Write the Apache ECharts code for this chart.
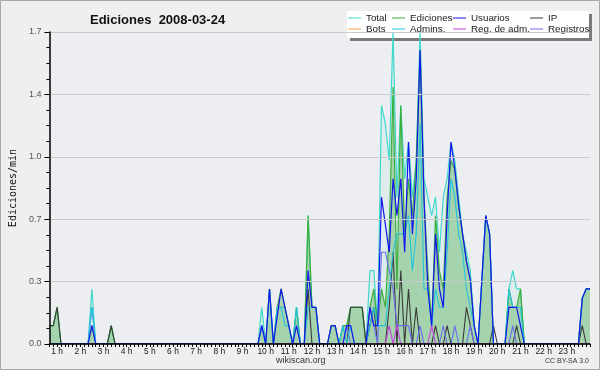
<!DOCTYPE html>
<html>
<head>
<meta charset="utf-8">
<script src="https://cdn.jsdelivr.net/npm/echarts@6/dist/echarts.min.js"></script>
<style>
  html, body { margin: 0; padding: 0; background: #efefef; }
  #chart { width: 600px; height: 370px; }
</style>
</head>
<body>
<div id="chart"></div>
<script>
  // 10 min bins from 0:40 to 24:00, values in edits/min
  const total = [
    0.1, 0.1,
    0.2, 0, 0, 0, 0, 0,
    0, 0, 0, 0.3, 0, 0,
    0, 0, 0.1, 0, 0, 0,
    0, 0, 0, 0, 0, 0,
    0, 0, 0, 0, 0, 0,
    0, 0, 0, 0, 0, 0,
    0, 0, 0, 0, 0, 0,
    0, 0, 0, 0, 0, 0,
    0, 0, 0, 0, 0, 0.2,
    0, 0.3, 0, 0.2, 0.2, 0.2,
    0.1, 0, 0.2, 0, 0, 0.7,
    0.2, 0.2, 0, 0, 0, 0.1,
    0.1, 0, 0.1, 0.1, 0.2, 0.2,
    0.2, 0.2, 0, 0.4, 0.4, 0.1,
    1.3, 1.2, 1.0, 1.7, 0.8, 1.3,
    0.9, 1.1, 0.8, 1.0, 1.7, 0.9,
    0.8, 0.7, 0.8, 0.5, 0.8, 0.9,
    1.1, 1.0, 0.8, 0.6, 0.5, 0.4,
    0.1, 0, 0.35, 0.7, 0.6, 0,
    0, 0, 0, 0.3, 0.4, 0.3,
    0.3, 0, 0, 0, 0, 0,
    0, 0, 0, 0, 0, 0,
    0, 0, 0, 0, 0.25, 0.3,
    0.3
  ];
  const ediciones = [
    0.1, 0.1,
    0.2, 0, 0, 0, 0, 0,
    0, 0, 0, 0.1, 0, 0,
    0, 0, 0.1, 0, 0, 0,
    0, 0, 0, 0, 0, 0,
    0, 0, 0, 0, 0, 0,
    0, 0, 0, 0, 0, 0,
    0, 0, 0, 0, 0, 0,
    0, 0, 0, 0, 0, 0,
    0, 0, 0, 0, 0, 0.1,
    0, 0.3, 0, 0.2, 0.3, 0.2,
    0.1, 0, 0.2, 0, 0, 0.7,
    0.2, 0.2, 0, 0, 0, 0.1,
    0.1, 0, 0.1, 0.1, 0.2, 0.2,
    0.2, 0.2, 0, 0.2, 0.3, 0.1,
    0.3, 0.2, 0.6, 1.4, 0.3, 1.3,
    0.6, 0.9, 0.7, 1.0, 1.6, 0.8,
    0.4, 0.1, 0.7, 0.4, 0.3, 0.8,
    1.0, 0.95, 0.75, 0.6, 0.45, 0.35,
    0.1, 0, 0.35, 0.7, 0.6, 0,
    0, 0, 0, 0.3, 0.2, 0.2,
    0.3, 0, 0, 0, 0, 0,
    0, 0, 0, 0, 0, 0,
    0, 0, 0, 0, 0.25, 0.3,
    0.3
  ];
  const usuarios = [
    0, 0,
    0, 0, 0, 0, 0, 0,
    0, 0, 0, 0.1, 0, 0,
    0, 0, 0, 0, 0, 0,
    0, 0, 0, 0, 0, 0,
    0, 0, 0, 0, 0, 0,
    0, 0, 0, 0, 0, 0,
    0, 0, 0, 0, 0, 0,
    0, 0, 0, 0, 0, 0,
    0, 0, 0, 0, 0, 0.1,
    0, 0.3, 0, 0.15, 0.3, 0.2,
    0.1, 0, 0.1, 0, 0, 0.4,
    0.2, 0.2, 0, 0, 0, 0.1,
    0.1, 0, 0, 0.1, 0.1, 0,
    0, 0, 0, 0.2, 0.1, 0.1,
    0.8, 0.65, 0.5, 0.9, 0.7, 0.9,
    0.5, 1.1, 0.6, 0.9, 1.6, 0.8,
    0.3, 0.1, 0.6, 0.3, 0.2, 0.7,
    1.1, 0.95, 0.75, 0.6, 0.45, 0.35,
    0.1, 0, 0.35, 0.7, 0.6, 0,
    0, 0, 0, 0.2, 0.2, 0.2,
    0.1, 0, 0, 0, 0, 0,
    0, 0, 0, 0, 0, 0,
    0, 0, 0, 0, 0.25, 0.3,
    0.3
  ];
  const ip = [
    0.1, 0.1,
    0.2, 0, 0, 0, 0, 0,
    0, 0, 0, 0, 0, 0,
    0, 0, 0.1, 0, 0, 0,
    0, 0, 0, 0, 0, 0,
    0, 0, 0, 0, 0, 0,
    0, 0, 0, 0, 0, 0,
    0, 0, 0, 0, 0, 0,
    0, 0, 0, 0, 0, 0,
    0, 0, 0, 0, 0, 0,
    0, 0, 0, 0, 0, 0,
    0, 0, 0, 0, 0, 0.3,
    0, 0, 0, 0, 0, 0,
    0, 0, 0, 0, 0.2, 0.2,
    0.2, 0.2, 0, 0.1, 0.2, 0,
    0, 0, 0.2, 0.5, 0, 0.4,
    0, 0.3, 0, 0.2, 0, 0,
    0, 0, 0.1, 0, 0, 0.1,
    0, 0, 0, 0, 0.2, 0.1,
    0, 0, 0, 0, 0, 0.1,
    0, 0, 0, 0, 0, 0.1,
    0, 0, 0, 0, 0, 0,
    0, 0, 0, 0, 0, 0,
    0, 0, 0, 0, 0.1, 0,
    0
  ];
  const bots = new Array(total.length).fill(0);
  const admins = [
    0, 0,
    0, 0, 0, 0, 0, 0,
    0, 0, 0, 0.2, 0, 0,
    0, 0, 0, 0, 0, 0,
    0, 0, 0, 0, 0, 0,
    0, 0, 0, 0, 0, 0,
    0, 0, 0, 0, 0, 0,
    0, 0, 0, 0, 0, 0,
    0, 0, 0, 0, 0, 0,
    0, 0, 0, 0, 0, 0.1,
    0, 0.3, 0, 0.2, 0.2, 0.1,
    0.1, 0, 0.2, 0, 0, 0.2,
    0.2, 0.2, 0, 0, 0, 0,
    0, 0, 0.1, 0, 0.1, 0,
    0, 0, 0, 0.1, 0.2, 0.1,
    0.1, 0.1, 0.3, 0.5, 0.6, 0.6,
    0.6, 0.7, 0.4, 0.6, 1.2, 0.3,
    0.3, 0.1, 0.3, 0.2, 0.2, 0.5,
    0.9, 0.8, 0.6, 0.5, 0.3, 0.2,
    0.1, 0, 0.35, 0.7, 0.6, 0,
    0, 0, 0, 0.3, 0.2, 0.2,
    0.2, 0, 0, 0, 0, 0,
    0, 0, 0, 0, 0, 0,
    0, 0, 0, 0, 0.25, 0.3,
    0.3
  ];
  const regAdm = [
    0, 0,
    0, 0, 0, 0, 0, 0,
    0, 0, 0, 0, 0, 0,
    0, 0, 0, 0, 0, 0,
    0, 0, 0, 0, 0, 0,
    0, 0, 0, 0, 0, 0,
    0, 0, 0, 0, 0, 0,
    0, 0, 0, 0, 0, 0,
    0, 0, 0, 0, 0, 0,
    0, 0, 0, 0, 0, 0,
    0, 0, 0, 0, 0, 0,
    0, 0, 0, 0, 0, 0,
    0, 0, 0, 0, 0, 0,
    0, 0, 0, 0, 0, 0,
    0, 0, 0, 0, 0, 0,
    0, 0, 0.1, 0, 0.1, 0,
    0, 0, 0, 0, 0, 0,
    0, 0.1, 0, 0, 0, 0,
    0, 0, 0, 0, 0, 0,
    0, 0, 0, 0, 0, 0,
    0, 0, 0, 0, 0, 0,
    0, 0, 0, 0, 0, 0,
    0, 0, 0, 0, 0, 0,
    0, 0, 0, 0, 0, 0,
    0
  ];
  const registros = [
    0, 0,
    0, 0, 0, 0, 0, 0,
    0, 0, 0, 0.2, 0, 0,
    0, 0, 0, 0, 0, 0,
    0, 0, 0, 0, 0, 0,
    0, 0, 0, 0, 0, 0,
    0, 0, 0, 0, 0, 0,
    0, 0, 0, 0, 0, 0,
    0, 0, 0, 0, 0, 0,
    0, 0, 0, 0, 0, 0.1,
    0, 0, 0, 0, 0, 0,
    0, 0, 0, 0, 0, 0,
    0, 0, 0, 0, 0, 0,
    0, 0, 0, 0.1, 0, 0,
    0, 0, 0, 0.2, 0.1, 0,
    0.5, 0.5, 0.4, 0.3, 0.1, 0.1,
    0.1, 0.1, 0, 0, 0.1, 0,
    0, 0, 0, 0, 0.1, 0,
    0, 0.1, 0, 0, 0, 0.1,
    0, 0, 0, 0, 0, 0,
    0, 0, 0, 0, 0.1, 0,
    0, 0, 0, 0, 0, 0,
    0, 0, 0, 0, 0, 0,
    0, 0, 0, 0, 0, 0,
    0
  ];
  const yTicks = [0, 0.34, 0.68, 1.02, 1.36, 1.7];

  // category axis: one slot per 10 minutes
  const horas = [];
  for (let m = 40; m <= 1440; m += 10) {
    horas.push(Math.floor(m / 60) + ':' + String(m % 60).padStart(2, '0'));
  }

  const font = 'Liberation Sans, Arial, sans-serif';

  function linea (name, data, color, width, z) {
    return {
      name: name,
      type: 'line',
      data: data,
      symbol: 'none',
      z: z,
      color: color,
      lineStyle: { color: color, width: width },
      emphasis: { disabled: true }
    };
  }

  const sTotal = linea('Total', total, '#3fd8cc', 1.2, 2);
  sTotal.areaStyle = { color: 'rgba(120,225,215,0.18)' };
  const sEdic = linea('Ediciones', ediciones, '#3cae3c', 1.2, 3);
  sEdic.areaStyle = { color: 'rgba(60,165,60,0.5)' };

  const myChart = echarts.init(document.getElementById('chart'));
  const legendBase = {
    orient: 'vertical',
    top: 13,
    itemWidth: 13,
    itemHeight: 1,
    itemGap: 1,
    icon: 'rect',
    selectedMode: false,
    textStyle: { fontFamily: font, fontSize: 9.8, color: '#1a1a1a', lineHeight: 10, padding: 0 },
    padding: 0
  };
  myChart.setOption({
    backgroundColor: '#efefef',
    animation: false,
    title: {
      text: 'Ediciones  2008-03-24',
      left: 85,
      top: 9,
      textStyle: { fontFamily: font, fontSize: 13, fontWeight: 'bold', color: '#111' }
    },
    legend: [
      Object.assign({}, legendBase, { left: 348, data: ['Total', 'Bots'] }),
      Object.assign({}, legendBase, { left: 392, data: ['Ediciones', 'Admins.'] }),
      Object.assign({}, legendBase, { left: 453, data: ['Usuarios', 'Reg. de adm.'] }),
      Object.assign({}, legendBase, { left: 530, data: ['IP', 'Registros'] })
    ],
    graphic: [
      { type: 'rect', z: -1, shape: { x: 0.5, y: 0.5, width: 599, height: 369 }, style: { fill: 'none', stroke: '#a8a8a8', lineWidth: 1 } },
      { type: 'rect', z: 0, shape: { x: 350, y: 14, width: 242, height: 27 }, style: { fill: '#7a7a7a' } },
      { type: 'rect', z: 1, shape: { x: 347, y: 11, width: 242, height: 27 }, style: { fill: '#ffffff' } },
      { type: 'text', left: 276, top: 356, style: { text: 'wikiscan.org', font: '9px ' + font, fill: '#333' } },
      { type: 'text', right: 11, top: 358, style: { text: 'CC BY-SA 3.0', font: '7px ' + font, fill: '#333' } }
    ],
    grid: {
      left: 46,
      top: 32,
      right: 10,
      bottom: 26,
      show: true,
      backgroundColor: '#edeef1',
      borderWidth: 0
    },
    xAxis: {
      type: 'category',
      data: horas,
      boundaryGap: false,
      z: 10,
      axisLine: { lineStyle: { color: '#000', width: 1.5 } },
      axisTick: { interval: 0, length: 3, lineStyle: { color: '#000' } },
      axisLabel: {
        interval: function (i, v) { return v.slice(-3) === ':00' && v !== '24:00'; },
        formatter: function (v) { return v.split(':')[0] + ' h'; },
        fontFamily: font,
        fontSize: 8.5,
        color: '#222',
        margin: 3
      },
      splitLine: { show: false }
    },
    yAxis: {
      type: 'value',
      min: yTicks[0],
      max: yTicks[yTicks.length - 1],
      interval: yTicks[1] - yTicks[0],
      name: 'Ediciones/min',
      nameLocation: 'middle',
      nameGap: 31,
      nameTextStyle: { fontFamily: 'DejaVu Sans Mono', fontSize: 10, color: '#111' },
      z: 10,
      axisLine: { show: true, lineStyle: { color: '#000', width: 1.5 } },
      axisTick: { show: true, length: 5, lineStyle: { color: '#000' } },
      minorTick: { show: true, splitNumber: 4, length: 3, lineStyle: { color: '#000' } },
      axisLabel: {
        formatter: function (v) { return v.toFixed(1); },
        fontFamily: font,
        fontSize: 9,
        color: '#555',
        margin: 8
      },
      splitLine: { lineStyle: { color: '#c9c9c9', width: 1 } }
    },
    series: [
      sTotal,
      sEdic,
      linea('Bots', bots, '#f4a040', 1.1, 4),
      linea('IP', ip, '#3a3a3a', 1.1, 5),
      linea('Registros', registros, '#6c6cf0', 1.1, 6),
      linea('Reg. de adm.', regAdm, '#c840e0', 1.1, 6),
      linea('Admins.', admins, '#22c4dc', 1.1, 7),
      linea('Usuarios', usuarios, '#1414ee', 1.2, 8)
    ]
  });
</script>
</body>
</html>
